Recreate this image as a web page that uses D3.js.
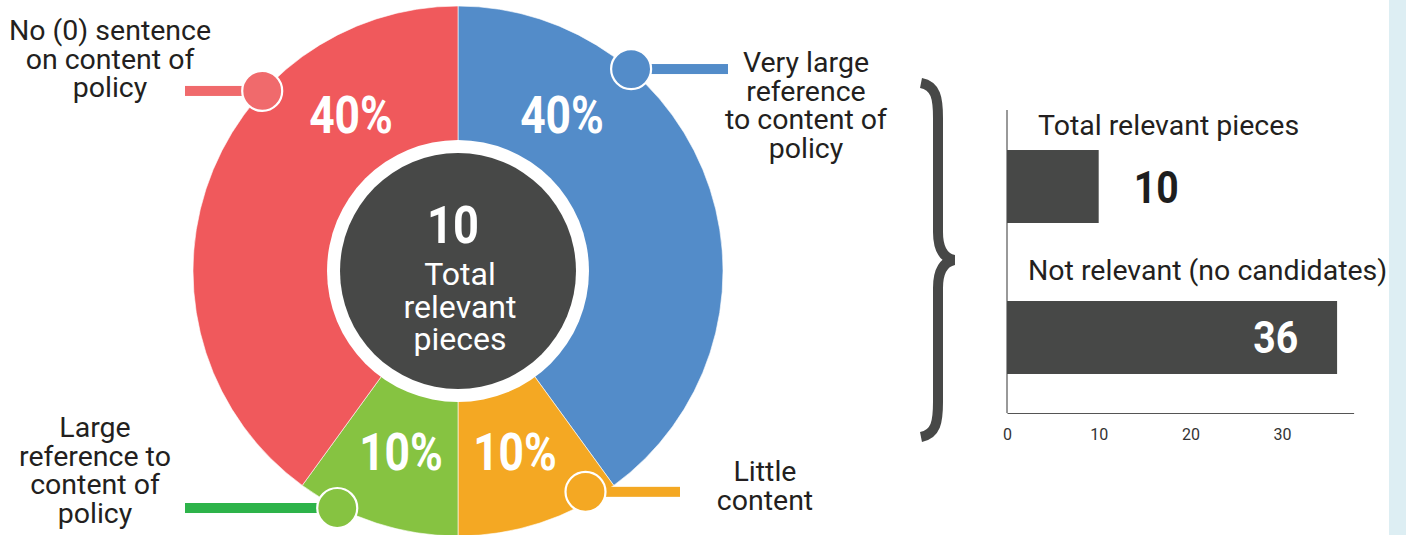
<!DOCTYPE html>
<html>
<head>
<meta charset="utf-8">
<script src="https://cdn.jsdelivr.net/npm/d3@7"></script>
<style>
  html, body { margin: 0; padding: 0; background: #ffffff; }
  svg { display: block; }
  text { font-family: Roboto, "Noto Sans", sans-serif; }
</style>
</head>
<body>
<svg id="chart" width="1406" height="535"></svg>
<script>
// ---- Donut: share of relevant pieces by depth of policy content ----
const sliceNames   = ["Very large reference to content of policy", "Little content",
                      "Large reference to content of policy", "No (0) sentence on content of policy"];
const sliceValues  = [40, 10, 10, 40];
const sliceLabels  = ["40%", "10%", "10%", "40%"];
const calloutLines = [
  ["Very large", "reference", "to content of", "policy"],
  ["Little", "content"],
  ["Large", "reference to", "content of", "policy"],
  ["No (0) sentence", "on content of", "policy"]
];
const centerValue = "10";
const centerLines = ["Total", "relevant", "pieces"];

// ---- Bars: relevant vs. not relevant pieces ----
const barCategories = ["Total relevant pieces", "Not relevant (no candidates)"];
const barValues     = [10, 36];
const barTicks      = [0, 10, 20, 30];

// ---- styling / layout ----
const sliceColors  = ["#538cc9", "#f4a823", "#86c341", "#f0595c"];
const dotColors    = ["#538cc9", "#f4a823", "#86c341", "#f06a6c"];
const leaderColors = ["#538cc9", "#f4a823", "#2db34a", "#f06a6c"];
const dark = "#474847";
const ink = "#231f20";

const svg = d3.select("#chart");

// light panel strip on the right edge
svg.append("rect").attr("x", 1389).attr("y", 0).attr("width", 17).attr("height", 535)
   .attr("fill", "#ddeef3");

const cx = 458, cy = 271, R = 265, rHole = 131, rCore = 118;
const g = svg.append("g").attr("transform", `translate(${cx},${cy})`);

const pie = d3.pie().sort(null).value(d => d)(sliceValues);
const arc = d3.arc().innerRadius(0).outerRadius(R);

g.selectAll("path.slice").data(pie).join("path")
  .attr("class", "slice")
  .attr("d", arc)
  .attr("fill", (d, i) => sliceColors[i])
  .attr("stroke", "#ffffff").attr("stroke-width", 0.6);

// white ring + dark core
g.append("circle").attr("r", rHole).attr("fill", "#ffffff");
g.append("circle").attr("r", rCore).attr("fill", dark);

// condensed bold numerals
function boldNum(sel, x, y, size, txt, fill, anchor) {
  sel.append("text")
    .attr("transform", `translate(${x},${y}) scale(0.87,1)`)
    .attr("text-anchor", anchor || "middle")
    .attr("font-weight", 700)
    .attr("font-size", size)
    .attr("fill", fill)
    .text(txt);
}

// percentage labels inside slices
const pctPos = [[104, -138], [57, 199], [-57, 199], [-107, -138]];
pie.forEach((d, i) => {
  boldNum(g, pctPos[i][0], pctPos[i][1], 51, sliceLabels[i], "#ffffff");
});

// center total
boldNum(g, -5, -28, 52, centerValue, "#ffffff");
g.selectAll("text.centerline").data(centerLines).join("text")
  .attr("class", "centerline")
  .attr("x", 2).attr("y", (d, i) => 14 + i * 32.5)
  .attr("text-anchor", "middle")
  .attr("font-size", 32).attr("fill", "#ffffff")
  .text(d => d);

// callout dots on the rim with leader bars and captions
const dotAngles = [40.6, 150, 207, 312.6];     // degrees clockwise from top
const leaderEnd = [270, 222, -273, -273];      // x of the far end of the leader bar
const captionX  = [348, 307, -363, -348];
const captionY0 = [-199, 210, 166, -231];
pie.forEach((d, i) => {
  const a = dotAngles[i] * Math.PI / 180;
  const dr = i === 1 ? R - 10 : R + 1;
  const px = Math.sin(a) * dr, py = -Math.cos(a) * dr;
  const x0 = Math.min(px, leaderEnd[i]), x1 = Math.max(px, leaderEnd[i]);
  g.append("rect").attr("x", x0).attr("y", py - 5).attr("width", x1 - x0).attr("height", 10)
    .attr("fill", leaderColors[i]);
  g.append("circle").attr("cx", px).attr("cy", py).attr("r", 20)
    .attr("fill", dotColors[i]).attr("stroke", "#ffffff").attr("stroke-width", 2.2);
  g.append("g").selectAll("text").data(calloutLines[i]).join("text")
    .attr("x", captionX[i]).attr("y", (t, j) => captionY0[i] + j * 28.7)
    .attr("text-anchor", "middle")
    .attr("font-size", 28.5).attr("fill", ink)
    .text(t => t);
});

// curly brace joining the donut to the bar chart
const brace = d3.path();
brace.moveTo(921, 83);
brace.bezierCurveTo(936, 86, 938, 98, 938, 118);
brace.lineTo(938, 232);
brace.bezierCurveTo(938, 250, 944, 258, 954, 260);
brace.bezierCurveTo(944, 262, 938, 270, 938, 288);
brace.lineTo(938, 402);
brace.bezierCurveTo(938, 422, 936, 434, 921, 437);
svg.append("path").attr("d", brace.toString())
  .attr("fill", "none").attr("stroke", dark).attr("stroke-width", 10);

// ---- bar chart ----
const x = d3.scaleLinear().domain([0, 37.8]).range([1007, 1353.6]);
const y = d3.scaleBand().domain(barCategories).range([110, 414])
  .paddingInner(0.5166).paddingOuter(0.265);

svg.append("line").attr("x1", x(0)).attr("x2", x(0)).attr("y1", 110).attr("y2", 413)
  .attr("stroke", "#555").attr("stroke-width", 1.2);

const xAxis = svg.append("g").attr("transform", "translate(0,413)")
  .call(d3.axisBottom(x).tickValues(barTicks).tickSize(0).tickSizeOuter(0).tickPadding(16));
xAxis.select(".domain").attr("stroke", "#555").attr("stroke-width", 1.2);
xAxis.selectAll("text").attr("font-family", "Roboto, sans-serif").attr("font-size", 16).attr("fill", "#333");

svg.selectAll("rect.bar").data(barValues).join("rect")
  .attr("class", "bar")
  .attr("x", x(0)).attr("y", (d, i) => y(barCategories[i]))
  .attr("width", d => x(d) - x(0)).attr("height", y.bandwidth())
  .attr("fill", dark);

const catOffset = [31, 21];
svg.selectAll("text.cat").data(barCategories).join("text")
  .attr("class", "cat")
  .attr("x", (d, i) => x(0) + catOffset[i])
  .attr("y", (d, i) => y(d) - (i === 0 ? 15 : 21))
  .attr("font-size", 28.5).attr("fill", ink)
  .text(d => d);

barValues.forEach((v, i) => {
  const yc = y(barCategories[i]) + y.bandwidth() / 2 + 16;
  const inside = x(v) - x(0) > 150;
  if (inside) boldNum(svg, x(v) - 39, yc, 45, String(v), "#ffffff", "end");
  else boldNum(svg, x(v) + 35, yc, 45, String(v), "#1e1e1e", "start");
});
</script>
</body>
</html>
